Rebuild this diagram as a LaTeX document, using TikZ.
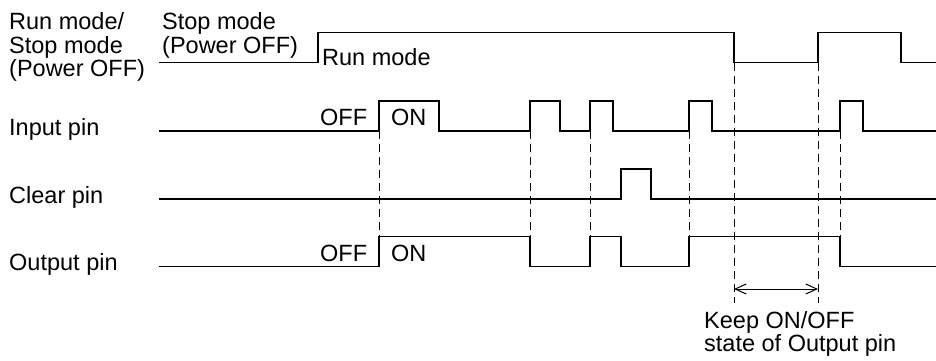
\documentclass[tikz,border=0pt]{standalone}
\usepackage{fontspec}
\setmainfont{Liberation Sans}
\usetikzlibrary{arrows.meta}
\begin{document}
\begin{tikzpicture}[x=1pt,y=-1pt,
  lbl/.style={anchor=base west,inner sep=0pt,font=\fontsize{23.5}{23.5}\selectfont},
  note/.style={anchor=base west,inner sep=0pt,align=left,font=\fontsize{23.5}{20}\selectfont},
  sig/.style={line width=1.1pt,line join=miter},
  guide/.style={line width=1pt,dash pattern=on 8pt off 5pt},
  span/.style={line width=1pt,{Straight Barb[length=11pt,width=10pt]}-{Straight Barb[length=11pt,width=10pt]}}]
\useasboundingbox (0,0) rectangle (936,360);
% labels
\node[lbl] (l1a) at (9,29.5) {Run mode/};
\node[lbl] (l1b) at (9,53) {Stop mode};
\node[lbl] (l1c) at (9,76.5) {(Power OFF)};
\node[lbl] (s1a) at (162,29.5) {Stop mode};
\node[lbl] (s1b) at (162,53) {(Power OFF)};
\node[lbl] (rm) at (322,65.5) {Run mode};
\node[lbl] (lin) at (9,135) {Input pin};
\node[lbl] (lcl) at (9,203.5) {Clear pin};
\node[lbl] (lout) at (9,270.5) {Output pin};
\node[lbl] (ioff) at (320,125.5) {OFF};
\node[lbl] (ion) at (391,125.5) {ON};
\node[lbl] (ooff) at (320,261.5) {OFF};
\node[lbl] (oon) at (391,261.5) {ON};
\node[note] (keep) at (704,351.5) {Keep ON/OFF\\state of Output pin};
% mode signal
\draw[sig] (159,62.5) -- (318,62.5) -- (318,32.5) -- (734,32.5) -- (734,62.5) -- (818,62.5) -- (818,32.5) -- (901,32.5) -- (901,62.5) -- (936,62.5);
% input pin
\draw[sig] (159,131) -- (379,131) -- (379,101) -- (439,101) -- (439,131) -- (530,131) -- (530,101) -- (560,101) -- (560,131) -- (590,131) -- (590,101) -- (613,101) -- (613,131) -- (689,131) -- (689,101) -- (712,101) -- (712,131) -- (840,131) -- (840,101) -- (863,101) -- (863,131) -- (936,131);
% clear pin
\draw[sig] (159,199) -- (621,199) -- (621,169) -- (651,169) -- (651,199) -- (936,199);
% output pin
\draw[sig] (159,266.5) -- (379,266.5) -- (379,236.5) -- (530,236.5) -- (530,266.5) -- (590,266.5) -- (590,236.5) -- (621,236.5) -- (621,266.5) -- (689,266.5) -- (689,236.5) -- (840,236.5) -- (840,266.5) -- (936,266.5);
% guides
\draw[guide] (379,131) -- (379,236.5);
\foreach \gx in {530,590,689,840} \draw[guide] (\gx,131) -- (\gx,266.5);
\coordinate (ka) at (734,289);
\coordinate (kb) at (818,289);
\draw[guide] (734,62.5) -- (734,303);
\draw[guide] (818,62.5) -- (818,303);
\draw[span] (ka) -- (kb);
\end{tikzpicture}
\end{document}
